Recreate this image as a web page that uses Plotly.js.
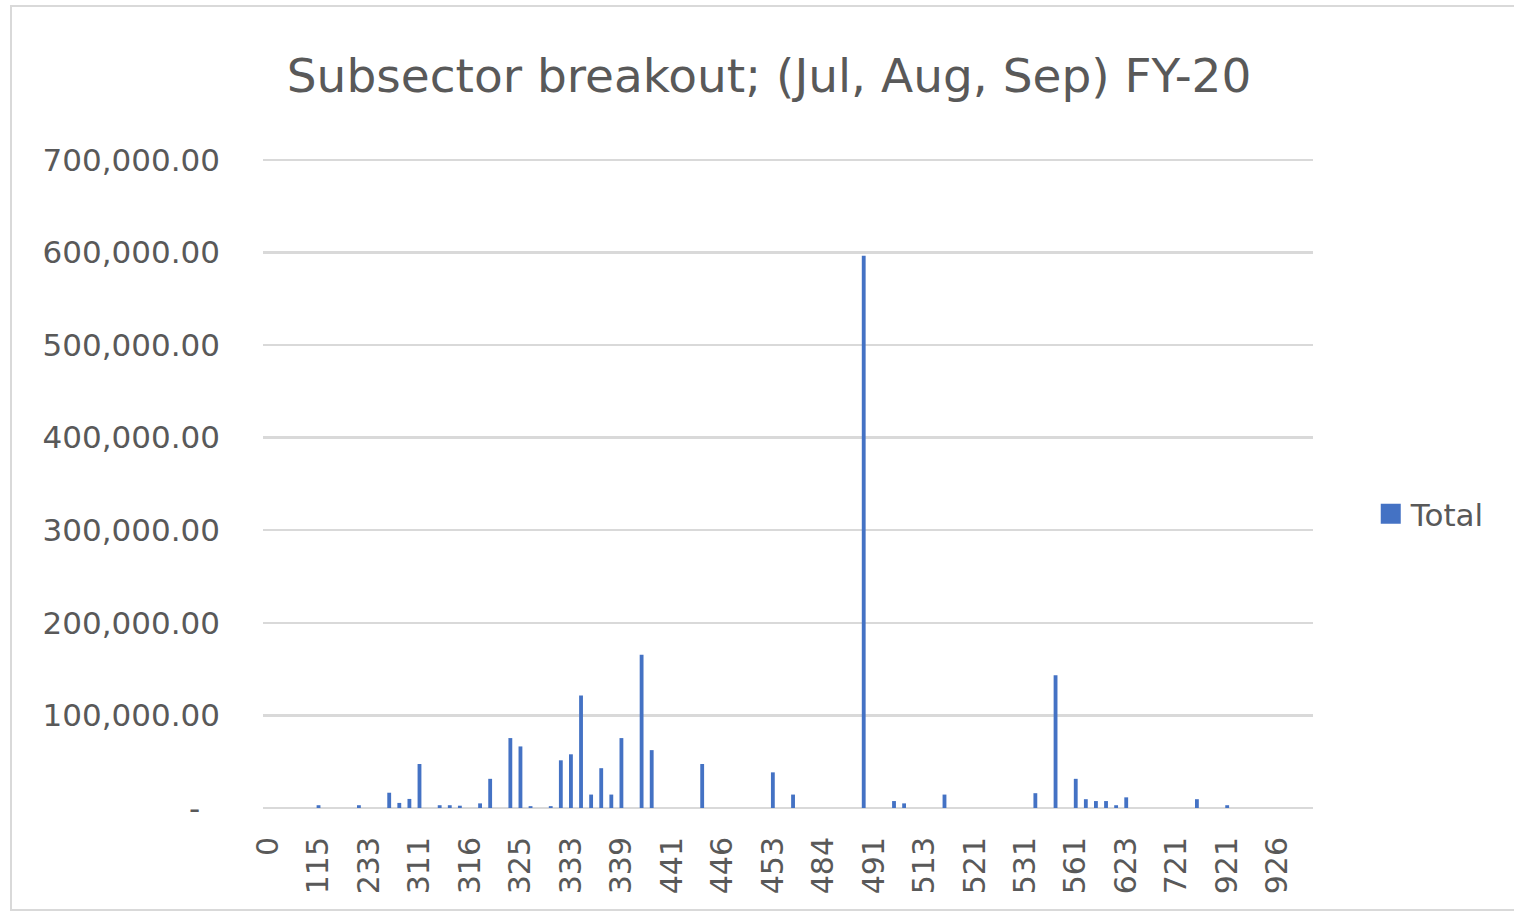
<!DOCTYPE html>
<html>
<head>
<meta charset="utf-8">
<script src="https://cdn.plot.ly/plotly-3.0.1.min.js"></script>
<style>
  html, body { margin: 0; padding: 0; background: #ffffff; overflow: hidden; }
  #frame { position: absolute; left: 10px; top: 5px; width: 1520px; height: 906px; border: 2px solid #d9d9d9; box-sizing: border-box; pointer-events: none; z-index: 5; }
  #chart { position: absolute; left: 0; top: 0; width: 1514px; height: 917px; }
</style>
</head>
<body>
<div id="chart"></div>
<div id="frame"></div>
<script>
// Subsector categories (104, sorted); only every 5th label is shown on the axis
const categories = [
  "0","111","112","113","114","115","211","212","213","221",
  "233","234","235","236","238","311","312","313","314","315",
  "316","321","322","323","324","325","326","327","331","332",
  "333","334","335","336","337","339","421","423","424","425",
  "441","442","443","444","445","446","447","448","451","452",
  "453","454","481","482","483","484","485","486","487","488",
  "491","492","493","511","512","513","515","517","518","519",
  "521","522","523","524","525","531","532","533","541","551",
  "561","562","611","621","622","623","624","711","712","713",
  "721","722","811","812","813","921","922","923","924","925",
  "926","927","928","999"
];

// Total per subsector
const totals = [
  0,0,0,0,0,3000,0,0,0,3000,
  0,0,16500,5500,9800,47500,0,3000,3000,2500,
  0,5000,31500,0,75500,66500,2000,0,2000,51500,
  58000,121500,14500,43000,14500,75500,0,165500,62500,0,
  0,0,0,47500,0,0,0,0,0,0,
  38500,0,14500,0,0,0,0,0,0,596500,
  0,0,7500,5000,0,0,0,14500,0,0,
  0,0,0,0,0,0,16000,0,143500,0,
  31500,9500,7500,7500,3000,11500,0,0,0,0,
  0,0,9500,0,0,3000,0,0,0,0,
  0,0,0,0
];

// Axis tick labels
const xTickLabels = ["0","115","233","311","316","325","333","339","441","446","453","484","491","513","521","531","561","623","721","921","926"];
const yTickValues = [0,100000,200000,300000,400000,500000,600000,700000];
const yTickLabels = ["-\u00a0\u00a0","100,000.00","200,000.00","300,000.00","400,000.00","500,000.00","600,000.00","700,000.00"];

const seriesName = "Total";
const chartTitle = "Subsector breakout; (Jul, Aug, Sep) FY-20";

const textColor = "#595959";
const fontFamily = "'DejaVu Sans', 'Open Sans', sans-serif";

const trace = {
  type: "bar",
  x: categories,
  y: totals,
  name: seriesName,
  marker: { color: "#4472C4" },
  hoverinfo: "x+y"
};

const layout = {
  width: 1514,
  height: 917,
  margin: { l: 263, r: 201, t: 158, b: 109 },
  paper_bgcolor: "#ffffff",
  plot_bgcolor: "#ffffff",
  bargap: 0.62,
  font: { family: fontFamily, color: textColor, size: 31 },
  title: {
    text: chartTitle,
    font: { family: fontFamily, size: 47, color: textColor },
    x: 0.508, xanchor: "center",
    y: 0.918, yanchor: "middle", yref: "container"
  },
  xaxis: {
    type: "category",
    tickmode: "array",
    tickvals: xTickLabels,
    ticktext: xTickLabels,
    tickangle: -90,
    ticks: "",
    ticklabelstandoff: 22,
    showgrid: false,
    showline: false,
    zeroline: false,
    tickfont: { family: fontFamily, size: 30, color: textColor },
    range: [-0.5, categories.length - 0.5],
    fixedrange: true
  },
  yaxis: {
    range: [0, 702000],
    tickmode: "array",
    tickvals: yTickValues,
    ticktext: yTickLabels,
    ticks: "",
    ticklabelstandoff: 42,
    showgrid: true,
    gridcolor: "#d9d9d9",
    gridwidth: 2.5,
    zeroline: true,
    zerolinecolor: "#d9d9d9",
    zerolinewidth: 2.5,
    showline: false,
    tickfont: { family: fontFamily, size: 31, color: textColor },
    fixedrange: true
  },
  showlegend: true,
  legend: {
    x: 1.055, xanchor: "left",
    y: 0.452, yanchor: "middle",
    font: { family: fontFamily, size: 31, color: textColor },
    bgcolor: "rgba(0,0,0,0)",
    itemwidth: 30
  }
};

Plotly.newPlot("chart", [trace], layout, { displayModeBar: false, staticPlot: true }).then(function (gd) {
  // enlarge the legend swatch to match the reference's square
  gd.querySelectorAll(".legend .legendpoints path").forEach(function (p) {
    p.setAttribute("d", "M10,10H-10V-10H10Z");
  });
});
</script>
</body>
</html>
